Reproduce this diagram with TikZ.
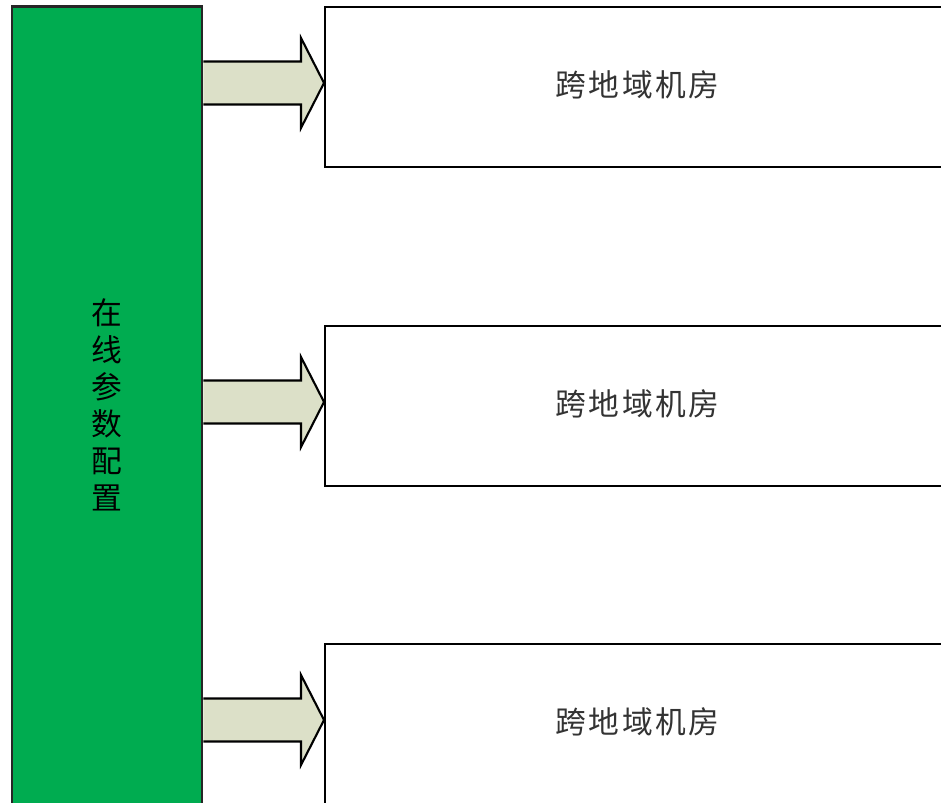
\documentclass[tikz,border=0pt]{standalone}
\usepackage{fontspec}
\newfontfamily\cjk{Noto Sans CJK SC}
\usetikzlibrary{positioning,calc}
\definecolor{cfggreen}{RGB}{0,172,80}
\definecolor{arrowfill}{RGB}{220,224,200}
\tikzstyle{cfgbox}=[rectangle,draw=black!85,line width=1.5pt,fill=cfggreen,minimum width=3.8cm,minimum height=16.1cm,inner sep=0pt]
\tikzstyle{roombox}=[rectangle,draw=black,line width=1.2pt,fill=white,minimum width=12.5cm,minimum height=3.2cm,inner sep=0pt]
\tikzstyle{fatarrow}=[draw=black,line width=1.2pt,fill=arrowfill,line join=miter]
\tikzstyle{roomtxt}=[font=\cjk\fontsize{17.5}{20}\selectfont\addfontfeatures{LetterSpace=8},text=black!80]

\begin{document}
\begin{tikzpicture}[x=0.02cm,y=-0.02cm]
	\useasboundingbox (0,0) rectangle (941,803);
	\clip (0,0) rectangle (941,803);
	\node[cfgbox] (cfg) at (107,409) {};
	\node[align=center,font=\cjk\fontsize{17.5}{21}\selectfont] (cfgtxt) at (107,405) {在\\线\\参\\数\\配\\置};
	\foreach \i/\y in {1/87,2/406,3/724}
	\node[roombox] (room\i) at (637.5,\y) {};
	\foreach \i in {1,2,3}
	\node[roomtxt] (roomtxt\i) at ($(room\i)+(0,-2)$) {跨地域机房};
	\foreach \i in {1,2,3}{
	\coordinate (tip\i) at ($(room\i.west)+(0,-4)$);
	\draw[fatarrow] ($(cfg.east|-tip\i)+(0,-21.5)$) -- ($(tip\i)+(-23,-21.5)$) -- ($(tip\i)+(-23,-45)$) -- (tip\i)
		-- ($(tip\i)+(-23,45)$) -- ($(tip\i)+(-23,21.5)$) -- ($(cfg.east|-tip\i)+(0,21.5)$);
	}
\end{tikzpicture}
\end{document}
